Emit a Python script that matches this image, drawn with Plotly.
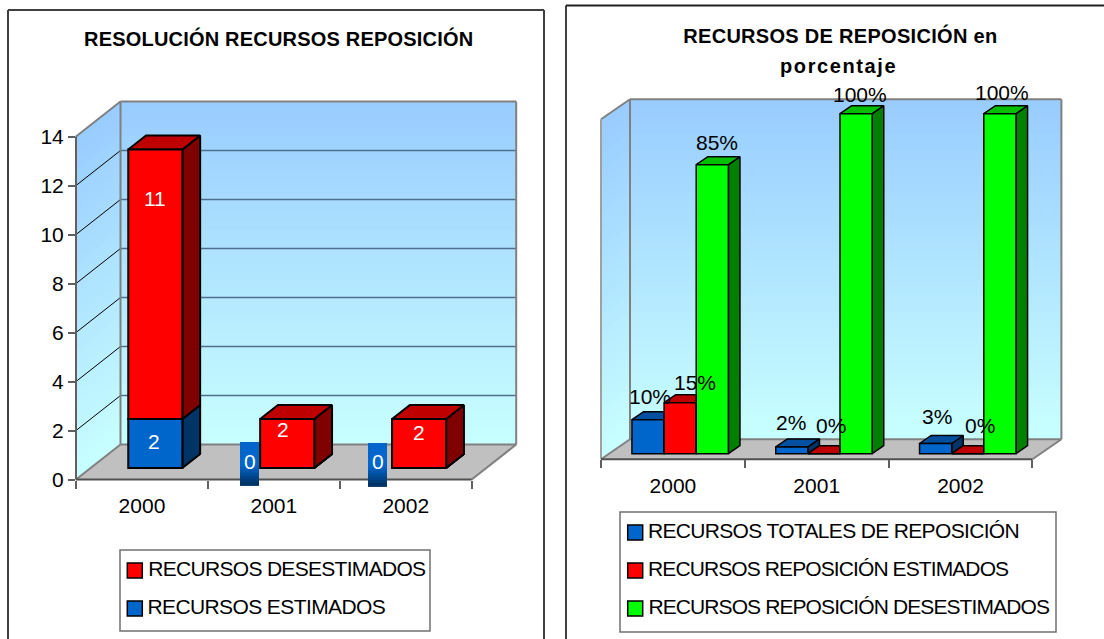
import json
import plotly.graph_objects as go

# ---------- data ----------
YEARS = ["2000", "2001", "2002"]
TITLE_LEFT = "RESOLUCIÓN RECURSOS REPOSICIÓN"
TITLE_RIGHT_1 = "RECURSOS DE REPOSICIÓN en"
TITLE_RIGHT_2 = "porcentaje"
ESTIMADOS = [2, 0, 0]
DESESTIMADOS = [11, 2, 2]
LEFT_TICKS = [0, 2, 4, 6, 8, 10, 12, 14]
TOTALES_PCT = [0.10, 0.02, 0.03]
ESTIMADOS_PCT = [0.15, 0.0, 0.0]
DESESTIMADOS_PCT = [0.85, 1.0, 1.0]
NAME_EST = "RECURSOS ESTIMADOS"
NAME_DES = "RECURSOS DESESTIMADOS"
NAME_TOT_R = "RECURSOS TOTALES DE REPOSICIÓN"
NAME_EST_R = "RECURSOS REPOSICIÓN ESTIMADOS"
NAME_DES_R = "RECURSOS REPOSICIÓN DESESTIMADOS"

# ---------- styles ----------
W, H = 1104, 639
FONT = "Liberation Sans, Arial, sans-serif"
FS = 21
BLUE = ("#0066CC", "#00509F", "#003366")
RED = ("#FF0000", "#BF0000", "#800000")
GREEN = ("#00FF00", "#00BF00", "#008000")
WALL_TOP = (153, 204, 255)
WALL_BOT = (200, 255, 255)
FLOOR = "#C0C0C0"
EDGE = "#808080"
AXIS = "#606060"

def px(x): return x / W
def py(y): return 1 - y / H

# projection of each panel (all in pixels)
L = dict(x0=76, y0=479.5, cw=131.9, vu=24.5, dx=44.5, dy=35.0, ymax=14, d0x=0.3, d0y=0.33, dep=0.4, bw=0.41)
R = dict(x0=601, y0=459.3, cw=143.8, vu=340.0, dx=29.0, dy=20.0, ymax=1.0, d0x=0.25, d0y=0.28, dep=0.4, bw=0.2235)

def P(p, c, v, d=0.0):
    """paper coordinates of category position c, value v, depth d"""
    return px(p["x0"] + c * p["cw"] + d * p["dx"]), py(p["y0"] - v * p["vu"] - d * p["dy"])

shapes, annots = [], []

def path(pts, fill, line=None, lw=0, layer="below"):
    d = "M" + " L".join(f"{a:.5f},{b:.5f}" for a, b in pts) + " Z"
    s = dict(type="path", path=d, xref="paper", yref="paper", fillcolor=fill, layer=layer,
             line=dict(color=line or "rgba(0,0,0,0)", width=lw))
    shapes.append(s)

def seg(a, b, color, lw, layer="below"):
    shapes.append(dict(type="line", xref="paper", yref="paper", x0=a[0], y0=a[1], x1=b[0], y1=b[1],
                       line=dict(color=color, width=lw), layer=layer))

def mix(c0, c1, t):
    return "rgb(%d,%d,%d)" % tuple(round(a + (b - a) * t) for a, b in zip(c0, c1))

def walls(p, grid_vals, axis_color, edge_w):
    n, ym = 40, p["ymax"]
    for i in range(n):
        t = i / n
        hi = ym * (1 - t)
        lo = max(0, ym * (1 - (i + 1.6) / n))
        col = mix(WALL_TOP, WALL_BOT, (i + .5) / n)
        path([P(p, 0, hi, 1), P(p, 3, hi, 1), P(p, 3, lo, 1), P(p, 0, lo, 1)], col)
        path([P(p, 0, hi, 0), P(p, 0, hi, 1), P(p, 0, lo, 1), P(p, 0, lo, 0)], col)
    path([P(p, 0, 0, 0), P(p, 3, 0, 0), P(p, 3, 0, 1), P(p, 0, 0, 1)], FLOOR)
    for v in grid_vals:
        if v in (0, ym):
            continue
        seg(P(p, 0, v, 0), P(p, 0, v, 1), "#000000", 1)
        seg(P(p, 0, v, 1), P(p, 3, v, 1), "#4F6F8F", 1.5)
    # wall / floor borders
    seg(P(p, 0, ym, 0), P(p, 0, ym, 1), EDGE, edge_w)
    seg(P(p, 0, ym, 1), P(p, 3, ym, 1), EDGE, edge_w)
    seg(P(p, 3, ym, 1), P(p, 3, 0, 1), EDGE, edge_w)
    seg(P(p, 0, ym, 1), P(p, 0, 0, 1), EDGE, edge_w)
    seg(P(p, 0, 0, 1), P(p, 3, 0, 1), EDGE, edge_w)
    seg(P(p, 0, 0, 0), P(p, 0, 0, 1), EDGE, edge_w)
    seg(P(p, 3, 0, 0), P(p, 3, 0, 1), EDGE, edge_w)
    seg(P(p, 0, ym, 0), P(p, 0, 0, 0), axis_color, edge_w)
    seg(P(p, 0, 0, 0), P(p, 3, 0, 0), "#505050", edge_w)

walls(L, LEFT_TICKS, AXIS, 2)
walls(R, [], "#A0A0A0", 2)

# axes are laid out so that 1 unit on x = one category, y = series units
def axis_layout(p):
    xr = 3 + p["dx"] / p["cw"]
    yr = p["ymax"] + p["dy"] / p["vu"]
    dom_x = [px(p["x0"]), px(p["x0"] + xr * p["cw"])]
    dom_y = [py(p["y0"]), py(p["y0"] - yr * p["vu"])]
    return xr, yr, dom_x, dom_y

fig = go.Figure()

def box_traces(p, cx, bottoms, heights, colors, name, xa, ya, z, lw):
    """front = real bars; top & side = polygons projected from the same values"""
    dx_u = p["dx"] / p["cw"]
    dy_u = p["dy"] / p["vu"]
    dep_x, dep_y = p["dep"] * dx_u, p["dep"] * dy_u
    xs_top, ys_top, xs_side, ys_side = [], [], [], []
    for c, b, h in zip(cx, bottoms, heights):
        a0, a1 = c - p["bw"] / 2, c + p["bw"] / 2
        t = b + h
        xs_top += [a0, a1, a1 + dep_x, a0 + dep_x, a0, None]
        ys_top += [t, t, t + dep_y, t + dep_y, t, None]
        xs_side += [a1, a1 + dep_x, a1 + dep_x, a1, a1, None]
        ys_side += [b, b + dep_y, t + dep_y, t, b, None]
    line = dict(color="#000000", width=lw)
    common = dict(mode="lines", fill="toself", line=line, hoverinfo="skip", showlegend=False, xaxis=xa, yaxis=ya, zorder=z)
    fig.add_trace(go.Scatter(x=xs_side, y=ys_side, fillcolor=colors[2], name=name + " (lateral)", **common))
    fig.add_trace(go.Scatter(x=xs_top, y=ys_top, fillcolor=colors[1], name=name + " (superior)", **common))
    fig.add_trace(go.Bar(x=cx, y=heights, base=bottoms, width=p["bw"], name=name, showlegend=False,
                         marker=dict(color=colors[0], line=line), xaxis=xa, yaxis=ya, zorder=z + 1))

# ---- left panel: stacked ----
lift_l = L["d0y"] * L["dy"] / L["vu"]
shift_l = L["d0x"] * L["dx"] / L["cw"]
cx_l = [i + 0.5 + shift_l for i in range(3)]
box_traces(L, cx_l, [lift_l] * 3, ESTIMADOS, BLUE, NAME_EST, "x", "y", 1, 2)
box_traces(L, cx_l, [lift_l + v for v in ESTIMADOS], DESESTIMADOS, RED, NAME_DES, "x", "y", 3, 2)

# ---- right panel: clustered ----
lift_r = R["d0y"] * R["dy"] / R["vu"]
shift_r = R["d0x"] * R["dx"] / R["cw"]
series_r = [(TOTALES_PCT, BLUE, NAME_TOT_R), (ESTIMADOS_PCT, RED, NAME_EST_R), (DESESTIMADOS_PCT, GREEN, NAME_DES_R)]
for k, (vals, cols, nm) in enumerate(series_r):
    cx = [i + 0.5 + shift_r + (k - 1) * R["bw"] for i in range(3)]
    box_traces(R, cx, [lift_r] * 3, vals, cols, nm, "x2", "y2", 1 + 2 * k, 1.5)

def label(text, xa, ya, x, y, color, xs=0, ys=0):
    annots.append(dict(text=text, xref=xa, yref=ya, x=x, y=y, xshift=xs, yshift=ys, showarrow=False,
                       xanchor="center", yanchor="middle",
                       font=dict(family=FONT, size=FS, color=color)))

# left data labels (pixel nudges keep Excel's odd placement)
label(str(ESTIMADOS[0]), "x", "y", cx_l[0], lift_l + ESTIMADOS[0] / 2, "#FFFFFF", -1, 2)
label(str(DESESTIMADOS[0]), "x", "y", cx_l[0], lift_l + ESTIMADOS[0] + DESESTIMADOS[0] / 2, "#FFFFFF", 0, 86)
label(str(DESESTIMADOS[1]), "x", "y", cx_l[1], lift_l + DESESTIMADOS[1] / 2, "#FFFFFF", -4, 14)
label(str(DESESTIMADOS[2]), "x", "y", cx_l[2], lift_l + DESESTIMADOS[2] / 2, "#FFFFFF", 0, 11)

# zero-height blue series: label tile with a fade at its foot
for i, xp0 in enumerate((240, 368)):
    top, bot = 442 + i, 485 + i
    n = 14
    for s in range(n):
        a, b = top + (bot - top) * s / n, top + (bot - top) * (s + 1.3) / n
        t = max(0, (s / (n - 1) - 0.55) / 0.45)
        col = mix((0, 102, 204), (0, 51, 102), t)
        path([(px(xp0), py(a)), (px(xp0 + 19), py(a)), (px(xp0 + 19), py(b)), (px(xp0), py(b))], col, layer="above")
    annots.append(dict(text=str(ESTIMADOS[i + 1]), xref="paper", yref="paper", x=px(xp0 + 9.8), y=py(461.5), showarrow=False,
                       xanchor="center", yanchor="middle",
                       font=dict(family=FONT, size=FS, color="#FFFFFF")))

# right data labels
nudges = {(0, 0): (2, 23), (1, 0): (15, 20), (2, 0): (5, 22),
          (0, 1): (-1, 24), (1, 1): (7, 28), (2, 1): (4, 19),
          (0, 2): (1, 27), (1, 2): (12, 28), (2, 2): (2, 21)}
for k, (vals, cols, nm) in enumerate(series_r):
    for i, v in enumerate(vals):
        cx = i + 0.5 + shift_r + (k - 1) * R["bw"]
        nx, ny = nudges[(k, i)]
        label(f"{round(v * 100)}%", "x2", "y2", cx, lift_r + v, "#000000", nx, ny)

# titles
def text_px(t, x, y, bold=False, size=FS):
    annots.append(dict(text=f"<b>{t}</b>" if bold else t, xref="paper", yref="paper", x=px(x), y=py(y), xanchor="center",
                       yanchor="middle", showarrow=False, font=dict(family=FONT, size=size, color="#000000")))

text_px(TITLE_LEFT, 278, 39, True, 20)
text_px(TITLE_RIGHT_1, 840, 35, True, 20)
text_px(TITLE_RIGHT_2, 838, 66, True, 20)

# panel frames (open towards the page edges like the reference)
seg((px(8), py(639)), (px(8), py(10)), "#404040", 2, "below")
seg((px(8), py(10)), (px(544), py(10)), "#404040", 2, "below")
seg((px(544), py(10)), (px(544), py(639)), "#404040", 2, "below")
seg((px(566), py(639)), (px(566), py(5.5)), "#404040", 2, "below")
seg((px(566), py(5.5)), (px(1104), py(5.5)), "#202020", 2, "below")

# legends
def rect_px(x0, y0, x1, y1, fill, line, lw):
    shapes.append(dict(type="rect", xref="paper", yref="paper", x0=px(x0), x1=px(x1), y0=py(y0), y1=py(y1),
                       fillcolor=fill, line=dict(color=line, width=lw), layer="below"))

def legend(box, entries, sw_x):
    rect_px(*box, "#FFFFFF", "#707070", 1.5)
    for y_c, color, name, text_c in entries:
        rect_px(sw_x, y_c - 7.5, sw_x + 15, y_c + 7.5, color, "#000000", 1.5)
        text_px(name, text_c, y_c - 2)

legend((120, 550, 430, 631), [(570.5, RED[0], NAME_DES, 287), (608.5, BLUE[0], NAME_EST, 266)], 127.3)
legend((620, 512, 1056, 632), [(532.5, BLUE[0], NAME_TOT_R, 833.5), (570.5, RED[0], NAME_EST_R, 828), (608.5, GREEN[0], NAME_DES_R, 848)], 627.7)

xrL, yrL, dxL, dyL = axis_layout(L)
xrR, yrR, dxR, dyR = axis_layout(R)
tick_font = dict(family=FONT, size=FS, color="#000000")
cat_pos = [0.5, 1.5, 2.5]
edges = [0, 1, 2, 3]

def xaxis(dom, xr, anchor):
    return dict(domain=dom, range=[0, xr], anchor=anchor, showgrid=False, zeroline=False, showline=False, automargin=False,
                tickmode="array", tickvals=cat_pos, ticktext=YEARS, tickfont=tick_font, ticks="outside", ticklen=7,
                tickwidth=0, tickcolor="rgba(0,0,0,0)",
                minor=dict(tickmode="array", tickvals=edges, ticks="outside", ticklen=8, tickwidth=1.5, tickcolor="#606060", showgrid=False))

fig.update_layout(
    width=W, height=H, margin=dict(l=0, r=0, t=0, b=0, autoexpand=False), autosize=False,
    paper_bgcolor="#FFFFFF", plot_bgcolor="rgba(0,0,0,0)", barmode="overlay", showlegend=False,
    font=dict(family=FONT, size=FS, color="#000000"),
    xaxis=xaxis(dxL, xrL, "y"),
    yaxis=dict(domain=dyL, range=[0, yrL], anchor="x", showgrid=False, zeroline=False, showline=False, automargin=False, tickmode="array",
               tickvals=LEFT_TICKS, tickfont=tick_font, ticks="outside", ticklen=7, tickwidth=1.5, tickcolor="#606060"),
    xaxis2=xaxis(dxR, xrR, "y2"),
    yaxis2=dict(domain=dyR, range=[0, yrR], anchor="x2", visible=False, automargin=False),
    shapes=shapes, annotations=annots,
)

# page margin off; tighten / loosen the few texts the reference sets with odd tracking
tracking = {NAME_DES: "-0.7px", NAME_EST: "-0.6px", NAME_TOT_R: "-0.66px", NAME_EST_R: "-0.9px", NAME_DES_R: "-0.9px",
            TITLE_LEFT: "0.2px", TITLE_RIGHT_1: "0.3px", TITLE_RIGHT_2: "1.6px"}
post = """
document.body.style.margin = '0';
var trk = %s;
function applyTrk() {
  document.querySelectorAll('.annotation-text').forEach(function (t) {
    var s = trk[t.textContent];
    if (s) { t.style.letterSpacing = s; }
  });
}
applyTrk();
var gd = document.getElementById('{plot_id}');
if (gd && gd.on) { gd.on('plotly_afterplot', applyTrk); }
setTimeout(applyTrk, 50);
""" % json.dumps(tracking, ensure_ascii=False)
fig.write_html("out.html", config=dict(displayModeBar=False), post_script=post)
